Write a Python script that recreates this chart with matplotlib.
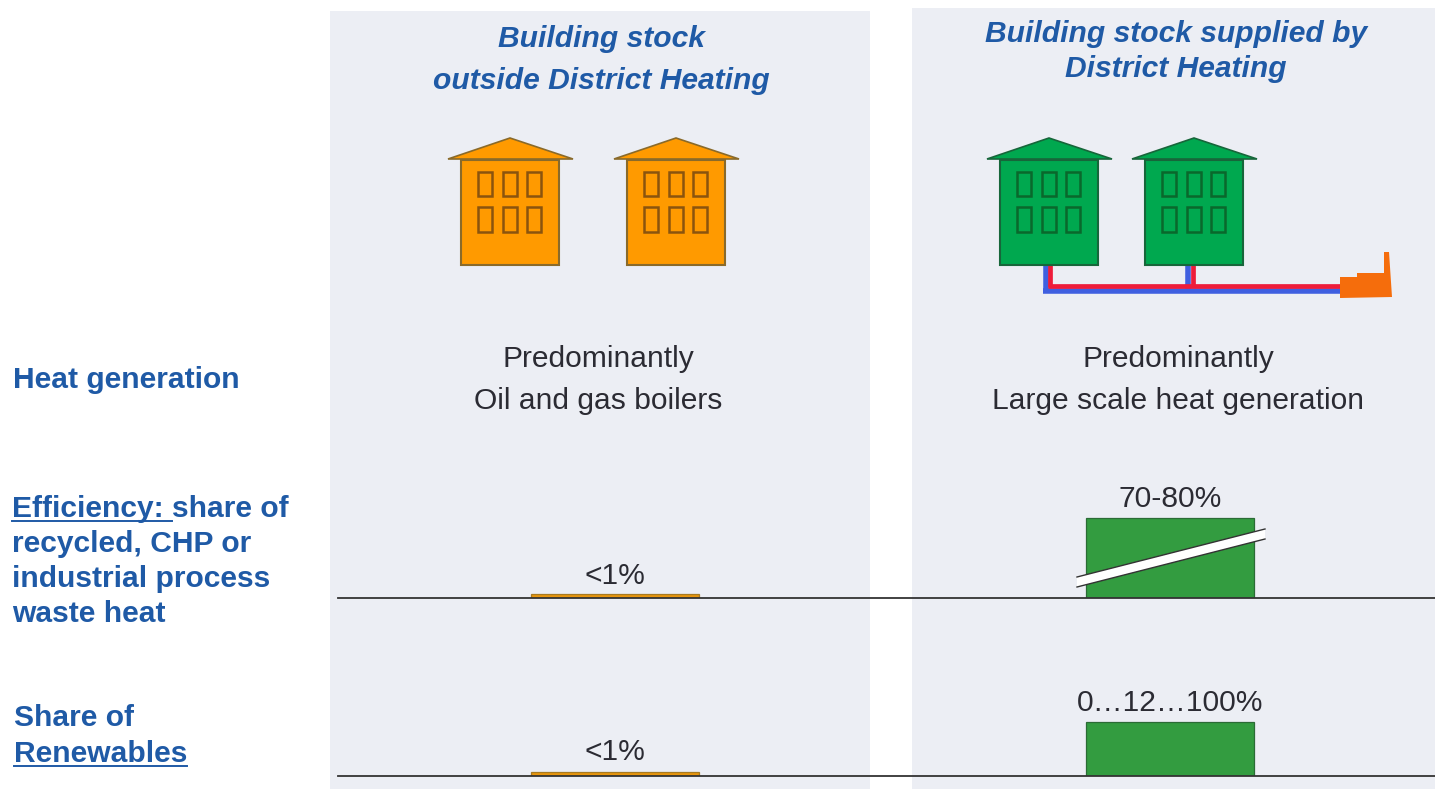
import numpy as np
import matplotlib
matplotlib.use('Agg')
import matplotlib.pyplot as plt
from matplotlib.patches import Polygon, Rectangle

W, H = 1435, 789

efficiency_values = [1, 75]
efficiency_labels = ['<1%', '70-80%']
renewable_values = [1, 12]
renewable_labels = ['<1%', '0…12…100%']
generation_lines = [['Predominantly', 'Oil and gas boilers'],
                    ['Predominantly', 'Large scale heat generation']]
column_titles = [['Building stock', 'outside District Heating'],
                 ['Building stock supplied by', 'District Heating']]
efficiency_row = ['Efficiency: share of', 'recycled, CHP or', 'industrial process', 'waste heat']
renewables_row = ['Share of', 'Renewables']

BLUE = '#1f5aa6'
INK = '#2b2b33'
PANEL = '#eceef4'
ORANGE = '#ff9a00'
GREEN = '#00a84f'
BAR_COLORS = ['#e8950c', '#339c40']
FS = 21.6

plt.rcParams['font.family'] = ['Liberation Sans', 'DejaVu Sans']

fig = plt.figure(figsize=(W / 100, H / 100), dpi=100, facecolor='white')

# whole-figure axes in pixel units for panels, houses and text
ax = fig.add_axes([0, 0, 1, 1])
ax.set_xlim(0, W)
ax.set_ylim(H, 0)
ax.axis('off')

ax.add_patch(Rectangle((330, 11), 540, H - 11, fc=PANEL, ec='none'))
ax.add_patch(Rectangle((912, 8), W - 912, H - 8, fc=PANEL, ec='none'))


def house(x0, color, edge, win_edge):
    # x0 is the left wall, 98 px wide body under an overhanging roof
    ax.add_patch(Rectangle((x0, 160), 98, 105, fc=color, ec=edge, lw=1.5, zorder=3))
    ax.add_patch(Polygon([[x0 - 13, 159], [x0 + 49, 138], [x0 + 112, 159]],
                         closed=True, fc=color, ec=edge, lw=1.2, zorder=3))
    for wy, wh in [(172, 24), (207, 25)]:
        for wx in [17, 42, 66]:
            ax.add_patch(Rectangle((x0 + wx, wy), 13.5, wh, fc='none',
                                   ec=win_edge, lw=1.8, zorder=4))


for x0 in [461, 627]:
    house(x0, ORANGE, '#8a6a2a', '#8a540e')
for x0 in [1000, 1145]:
    house(x0, GREEN, '#17663a', '#0a682c')

# district heating pipes, return in blue and flow in red
for x, y0, y1, c in [(1045.5, 265, 293, '#3f5fe0'), (1187.5, 265, 291, '#3f5fe0')]:
    ax.plot([x, x], [y0, y1], color=c, lw=4, solid_capstyle='butt', zorder=2)
ax.plot([1043, 1342], [290.5, 290.5], color='#3f5fe0', lw=4, solid_capstyle='butt', zorder=2)
for x in [1050, 1193]:
    ax.plot([x, x], [265, 287], color='#ee1c3a', lw=3.4, solid_capstyle='butt', zorder=2)
ax.plot([1048, 1342], [285.5, 285.5], color='#ee1c3a', lw=3.4, solid_capstyle='butt', zorder=2)

# heat plant
ax.add_patch(Polygon([[1340, 277], [1357, 277], [1357, 273], [1384, 273], [1384, 252],
                      [1389, 252], [1392, 297], [1340, 298]],
                     closed=True, fc='#f56d0c', ec='none', zorder=3))

# column headings
for lines, cx, ys in zip(column_titles, [601, 1176], [[39, 81], [34, 69]]):
    for line, y in zip(lines, ys):
        ax.text(cx, y, line, color=BLUE, fontsize=FS, fontweight='bold', style='italic',
                ha='center', va='center', zorder=5)

# heat generation row
for lines, cx in zip(generation_lines, [598, 1178]):
    for line, y in zip(lines, [359, 401]):
        ax.text(cx, y, line, color=INK, fontsize=FS, ha='center', va='center', zorder=5)

# row headings on the left
ax.text(13, 380, 'Heat generation', color=BLUE, fontsize=FS, fontweight='bold', va='center')
for line, y in zip(efficiency_row, [509, 544, 579, 614]):
    ax.text(12, y, line, color=BLUE, fontsize=FS, fontweight='bold', va='center')
for line, y in zip(renewables_row, [718, 754]):
    ax.text(14, y, line, color=BLUE, fontsize=FS, fontweight='bold', va='center')
ax.plot([12, 172], [521, 521], color=BLUE, lw=1.4)
ax.plot([14, 187], [765.5, 765.5], color=BLUE, lw=1.4)


def bar_row(baseline, top, values, labels, scale_pts, label_pad):
    # one row of bars sitting on its own black baseline
    rax = fig.add_axes([338 / W, 1 - baseline / H, (W - 338) / W, (baseline - top) / H])
    rax.patch.set_alpha(0)
    rax.set_xlim(338, W)
    # the bar scale is stretched near zero and broken towards the large values
    rax.set_yscale('function', functions=(
        lambda v: np.interp(v, scale_pts[0], scale_pts[1]),
        lambda p: np.interp(p, scale_pts[1], scale_pts[0])))
    rax.set_ylim(scale_pts[0][0], scale_pts[0][-1])
    for s in ['top', 'left', 'right']:
        rax.spines[s].set_visible(False)
    rax.spines['bottom'].set_color('#333333')
    rax.spines['bottom'].set_linewidth(1.3)
    rax.set_xticks([])
    rax.set_yticks([])
    rax.minorticks_off()
    bars = rax.bar([615, 1170], values, width=168, color=BAR_COLORS,
                   edgecolor=['#a87a20', '#2b6b35'], linewidth=0.9)
    for b, lab, pad in zip(bars, labels, label_pad):
        rax.annotate(lab, (b.get_x() + b.get_width() / 2, b.get_height()),
                     xytext=(0, pad), textcoords='offset pixels', ha='center', va='bottom',
                     color=INK, fontsize=FS)
    return rax


bar_row(598, 480, efficiency_values, efficiency_labels, ([0, 1, 75, 101], [0, 4.5, 80, 118]), [3, 5])
bar_row(776, 660, renewable_values, renewable_labels, ([0, 26], [0, 116]), [6, 5])

# break mark across the efficiency bar
over = fig.add_axes([0, 0, 1, 1])
over.set_xlim(0, W)
over.set_ylim(H, 0)
over.axis('off')
over.add_patch(Polygon([[1077, 577], [1265, 529], [1265, 539], [1077, 587]],
                       closed=True, fc='white', ec='none'))
over.plot([1077, 1265], [577, 529], color='#333333', lw=1)
over.plot([1077, 1265], [587, 539], color='#333333', lw=1)

fig.savefig('out.png', dpi=100)
